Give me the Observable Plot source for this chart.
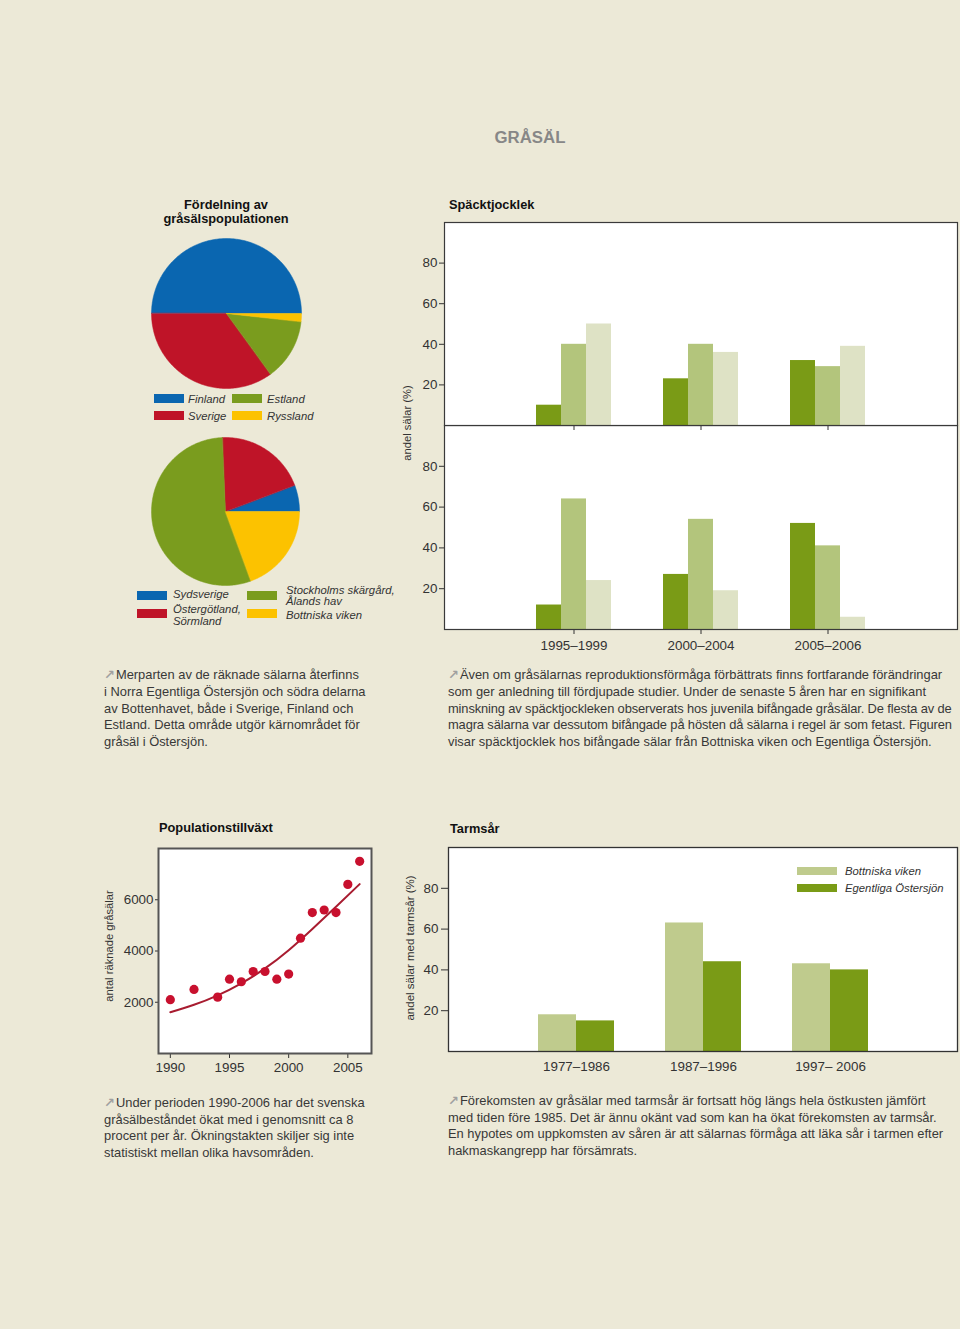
<!DOCTYPE html>
<html><head><meta charset="utf-8">
<script src="https://cdn.jsdelivr.net/npm/d3@7"></script>
<script src="https://cdn.jsdelivr.net/npm/@observablehq/plot@0.6"></script>
<style>
html,body{margin:0;padding:0;}
body{background:#ECE9D7;width:960px;height:1329px;position:relative;overflow:hidden;font-family:"Liberation Sans",Arial,sans-serif;color:#333;}
.para{position:absolute;font-family:"Liberation Sans",Arial,sans-serif;font-size:12.9px;color:#383838;white-space:nowrap;}
.arrow{color:#a0a0a0;font-family:"DejaVu Sans",sans-serif;font-size:13px;font-weight:bold;margin-right:1px;}
</style>
</head><body>
<script>
// ---------- DATA ----------
const pie1Labels = ["Finland", "Sverige", "Estland", "Ryssland"];
const pie1Values = [50, 35, 13.3, 1.7];
const pie1Colors = ["#0a66b0", "#bf1428", "#7a9c1e", "#fcc200"];
const pie1Order = ["Finland", "Ryssland", "Estland", "Sverige"];
const pie1StartDeg = -90;

const pie2Labels = ["Sydsverige", "Östergötland, Sörmland", "Stockholms skärgård, Ålands hav", "Bottniska viken"];
const pie2Values = [5.8, 19.9, 54.9, 19.4];
const pie2Colors = ["#0a66b0", "#bf1428", "#7a9c1e", "#fcc200"];
const pie2Order = ["Östergötland, Sörmland", "Sydsverige", "Bottniska viken", "Stockholms skärgård, Ålands hav"];
const pie2StartDeg = -2.5;

const spackPeriods = ["1995–1999", "2000–2004", "2005–2006"];
const spackClasses = ["< 26 mm", "26-35 mm", "> 35 mm"];
const spackColors = ["#7a9b16", "#b3c57c", "#dee2c5"];
const spackRegions = ["Bottniska viken", "Egentliga Östersjön"];
const bottniskaSmall = [10, 23, 32];
const bottniskaMid = [40, 40, 29];
const bottniskaLarge = [50, 36, 39];
const egentligaSmall = [12, 27, 52];
const egentligaMid = [64, 54, 41];
const egentligaLarge = [24, 19, 6];
const spackTicks = [20, 40, 60, 80];

const popYears = [1990, 1992, 1994, 1995, 1996, 1997, 1998, 1999, 2000, 2001, 2002, 2003, 2004, 2005, 2006];
const popCounts = [2100, 2500, 2200, 2900, 2800, 3200, 3200, 2900, 3100, 4500, 5500, 5600, 5500, 6600, 7500];
const trendYears = [1990, 1992, 1994, 1996, 1998, 2000, 2002, 2004, 2006];
const trendValues = [1610, 1900, 2270, 2740, 3320, 4030, 4860, 5730, 6610];
const popXTicks = [1990, 1995, 2000, 2005];
const popYTicks = [2000, 4000, 6000];

const tarmPeriods = ["1977–1986", "1987–1996", "1997– 2006"];
const tarmSeries = ["Bottniska viken", "Egentliga Östersjön"];
const tarmColors = ["#bfcb8d", "#7a9b16"];
const tarmBottniska = [18, 63, 43];
const tarmEgentliga = [15, 44, 40];
const tarmTicks = [20, 40, 60, 80];

// ---------- HELPERS ----------
const FONT = '"Liberation Sans", Arial, sans-serif';
function put(node, x, y, z) {
  const d = document.createElement("div");
  d.style.cssText = `position:absolute;left:${x}px;top:${y}px;${z ? "z-index:" + z + ";" : ""}`;
  node.style.display = "block";
  d.appendChild(node);
  document.body.appendChild(d);
}
function text(str, x, cy, o = {}) {
  const size = o.size || 12, d = document.createElement("div");
  d.textContent = str;
  d.style.cssText = `position:absolute;left:${x}px;top:${cy - 0.52 * size}px;font-family:${FONT};font-size:${size}px;line-height:${size}px;` +
    `font-weight:${o.weight || "normal"};font-style:${o.style || "normal"};color:${o.color || "#333"};white-space:nowrap;` +
    (o.anchor === "middle" ? "transform:translateX(-50%);" : "");
  document.body.appendChild(d);
}
function vtext(str, cx, cy, size) {
  const d = document.createElement("div");
  d.textContent = str;
  d.style.cssText = `position:absolute;left:${cx}px;top:${cy}px;font-family:${FONT};font-size:${size}px;line-height:${size}px;color:#333;white-space:nowrap;transform:translate(-50%,-50%) rotate(-90deg);`;
  document.body.appendChild(d);
}
function swatch(x, y, w, h, color) {
  const d = document.createElement("div");
  d.style.cssText = `position:absolute;left:${x}px;top:${y}px;width:${w}px;height:${h}px;background:${color};`;
  document.body.appendChild(d);
}
function para(lines, x, firstCy, lh, tight) {
  const d = document.createElement("div");
  d.className = "para";
  d.style.left = x + "px";
  d.style.top = (firstCy - 9) + "px";
  d.style.lineHeight = lh + "px";
  lines.forEach((l, i) => {
    const line = document.createElement("div");
    if (tight && tight.includes(i)) line.style.letterSpacing = "-0.13px";
    if (i === 0) {
      const a = document.createElement("span");
      a.className = "arrow"; a.textContent = "↗";
      line.appendChild(a);
    }
    line.appendChild(document.createTextNode(l));
    d.appendChild(line);
  });
  document.body.appendChild(d);
}

// ---------- TITLES ----------
text("GRÅSÄL", 530, 139, {size: 16.8, weight: "bold", color: "#878787", anchor: "middle"});
text("Fördelning av", 226, 206, {size: 12.8, weight: "bold", color: "#111", anchor: "middle"});
text("gråsälspopulationen", 226, 220, {size: 12.8, weight: "bold", color: "#111", anchor: "middle"});
text("Späcktjocklek", 449, 206, {size: 12.8, weight: "bold", color: "#111"});
text("Populationstillväxt", 159, 829, {size: 12.8, weight: "bold", color: "#111"});
text("Tarmsår", 450, 830, {size: 12.8, weight: "bold", color: "#111"});

// ---------- PIES ----------
function sliceRows(labels, values, order, startDeg) {
  const data = labels.map((l, i) => ({label: l, value: values[i]}));
  const a0 = startDeg * Math.PI / 180;
  const arcs = d3.pie().value(d => d.value)
    .sort((a, b) => order.indexOf(a.label) - order.indexOf(b.label))
    .startAngle(a0).endAngle(a0 + 2 * Math.PI)(data);
  const rows = [];
  for (const a of arcs) {
    rows.push({label: a.data.label, x: 0, y: 0});
    const n = Math.max(2, Math.ceil((a.endAngle - a.startAngle) / (Math.PI / 180)));
    for (let k = 0; k <= n; k++) {
      const t = a.startAngle + (a.endAngle - a.startAngle) * k / n;
      rows.push({label: a.data.label, x: Math.sin(t), y: Math.cos(t)});
    }
  }
  return rows;
}
function piePlot(labels, values, colors, order, start, size) {
  return Plot.plot({
    width: size, height: size, margin: 5,
    style: {background: "transparent", overflow: "visible"},
    x: {domain: [-1, 1], axis: null},
    y: {domain: [-1, 1], axis: null},
    color: {domain: labels, range: colors},
    marks: [
      Plot.line(sliceRows(labels, values, order, start), {x: "x", y: "y", z: "label", fill: "label", stroke: "label", strokeWidth: 0.5, curve: "linear-closed"})
    ]
  });
}
put(piePlot(pie1Labels, pie1Values, pie1Colors, pie1Order, pie1StartDeg, 160), 146, 233);
put(piePlot(pie2Labels, pie2Values, pie2Colors, pie2Order, pie2StartDeg, 158), 146, 432);

// pie legends
const LEG = {size: 11.3, style: "italic", color: "#333"};
swatch(154, 394, 30, 9, pie1Colors[0]); text(pie1Labels[0], 188, 399.5, LEG);
swatch(154, 411, 30, 9, pie1Colors[1]); text(pie1Labels[1], 188, 416.5, LEG);
swatch(232, 394, 30, 9, pie1Colors[2]); text(pie1Labels[2], 267, 400, LEG);
swatch(232, 411, 30, 9, pie1Colors[3]); text(pie1Labels[3], 267, 417, LEG);

swatch(137, 591, 30, 9, pie2Colors[0]); text("Sydsverige", 173, 595, LEG);
swatch(137, 609, 30, 9, pie2Colors[1]); text("Östergötland,", 173, 610, LEG); text("Sörmland", 173, 621.5, LEG);
swatch(247, 591, 30, 9, pie2Colors[2]); text("Stockholms skärgård,", 286, 590.5, LEG); text("Ålands hav", 286, 602, LEG);
swatch(247, 609, 30, 9, pie2Colors[3]); text("Bottniska viken", 286, 616, LEG);

// ---------- SPÄCKTJOCKLEK ----------
const spackRows = [];
spackPeriods.forEach((p, i) => {
  spackRows.push({region: spackRegions[0], period: p, cls: spackClasses[0], value: bottniskaSmall[i]});
  spackRows.push({region: spackRegions[0], period: p, cls: spackClasses[1], value: bottniskaMid[i]});
  spackRows.push({region: spackRegions[0], period: p, cls: spackClasses[2], value: bottniskaLarge[i]});
  spackRows.push({region: spackRegions[1], period: p, cls: spackClasses[0], value: egentligaSmall[i]});
  spackRows.push({region: spackRegions[1], period: p, cls: spackClasses[1], value: egentligaMid[i]});
  spackRows.push({region: spackRegions[1], period: p, cls: spackClasses[2], value: egentligaLarge[i]});
});
const axisStyle = {background: "transparent", fontFamily: FONT, fontSize: "13.4px", color: "#333", overflow: "visible"};
function spackPlot(region, top) {
  const rows = spackRows.filter(r => r.region === region);
  const dxs = [-25, 0, 25];
  return Plot.plot({
    width: 565, height: top ? 221 : 234,
    marginLeft: 49, marginRight: 3, marginTop: top ? 10 : 0, marginBottom: top ? 8 : 30,
    style: axisStyle,
    x: {domain: spackPeriods, paddingInner: 0.804, paddingOuter: 0.914, tickSize: 5, tickPadding: 6, label: null, tickFormat: top ? () => "" : d => d},
    y: {domain: [0, 100], ticks: spackTicks, tickSize: 5, tickPadding: 2, label: null},
    color: {domain: spackClasses, range: spackColors},
    marks: [
      Plot.frame({fill: "white", stroke: "none"}),
      ...spackClasses.map((c, i) => Plot.barY(rows.filter(r => r.cls === c), {x: "period", y: "value", fill: "cls", dx: dxs[i], inset: 0})),
      Plot.frame({stroke: "#3a3a3a", strokeWidth: 1.2})
    ]
  });
}
put(spackPlot(spackRegions[1], false), 395, 425, 1);
put(spackPlot(spackRegions[0], true), 395, 212, 2);
vtext("andel sälar (%)", 408, 423, 11.2);
text("Bottniska viken", 466, 242.5, LEG);
text("Egentliga Östersjön", 470, 444, LEG);
text("Späcktjocklek:", 843, 241.5, LEG);
swatch(843, 256, 41, 8, spackColors[0]); text(spackClasses[0], 891, 261, LEG);
swatch(843, 278, 41, 8, spackColors[1]); text(spackClasses[1], 891, 283, LEG);
swatch(843, 300, 41, 8, spackColors[2]); text(spackClasses[2], 891, 305, LEG);

// ---------- POPULATIONSTILLVÄXT ----------
const popRows = popYears.map((y, i) => ({year: y, count: popCounts[i]}));
const trendRows = trendYears.map((y, i) => ({year: y, count: trendValues[i]}));
put(Plot.plot({
  width: 291, height: 240,
  marginLeft: 68, marginRight: 10, marginTop: 10, marginBottom: 25,
  style: axisStyle,
  x: {domain: [1989, 2007], ticks: popXTicks, tickFormat: d => String(d), tickSize: 5, tickPadding: 4, label: null},
  y: {domain: [0, 8000], ticks: popYTicks, tickFormat: d => String(d), tickSize: 3, tickPadding: 2, label: null},
  marks: [
    Plot.frame({fill: "white", stroke: "none"}),
    Plot.line(trendRows, {x: "year", y: "count", stroke: "#a81c30", strokeWidth: 2, curve: "natural"}),
    Plot.dot(popRows, {x: "year", y: "count", r: 4.6, fill: "#c8102e", stroke: "none"}),
    Plot.frame({stroke: "#555", strokeWidth: 2})
  ]
}), 90, 838);
vtext("antal räknade gråsälar", 110, 946, 11.2);

// ---------- TARMSÅR ----------
const tarmRows = [];
tarmPeriods.forEach((p, i) => {
  tarmRows.push({period: p, series: tarmSeries[0], value: tarmBottniska[i]});
  tarmRows.push({period: p, series: tarmSeries[1], value: tarmEgentliga[i]});
});
put(Plot.plot({
  width: 565, height: 244,
  marginLeft: 53, marginRight: 3, marginTop: 10, marginBottom: 30,
  style: axisStyle,
  x: {domain: tarmPeriods, paddingInner: 0.703, paddingOuter: 0.84, tickSize: 0, tickPadding: 10, label: null},
  y: {domain: [0, 100], ticks: tarmTicks, tickSize: 7, tickPadding: 3, label: null},
  color: {domain: tarmSeries, range: tarmColors},
  marks: [
    Plot.frame({fill: "white", stroke: "none"}),
    ...tarmSeries.map((s, i) => Plot.barY(tarmRows.filter(r => r.series === s), {x: "period", y: "value", fill: "series", dx: i === 0 ? -19 : 19, inset: 0})),
    Plot.frame({stroke: "#333", strokeWidth: 1.3})
  ]
}), 395, 837);
vtext("andel sälar med tarmsår (%)", 411, 948, 11.5);
swatch(797, 867, 40, 8, tarmColors[0]); text(tarmSeries[0], 845, 871.5, LEG);
swatch(797, 884, 40, 8, tarmColors[1]); text(tarmSeries[1], 845, 889, LEG);

// ---------- TEXT ----------
para(["Merparten av de räknade sälarna återfinns",
      "i Norra Egentliga Östersjön och södra delarna",
      "av Bottenhavet, både i Sverige, Finland och",
      "Estland. Detta område utgör kärnområdet för",
      "gråsäl i Östersjön."], 104, 676, 16.75);
para(["Även om gråsälarnas reproduktionsförmåga förbättrats finns fortfarande förändringar",
      "som ger anledning till fördjupade studier. Under de senaste 5 åren har en signifikant",
      "minskning av späcktjockleken observerats hos juvenila bifångade gråsälar. De flesta av de",
      "magra sälarna var dessutom bifångade på hösten då sälarna i regel är som fetast. Figuren",
      "visar späcktjocklek hos bifångade sälar från Bottniska viken och Egentliga Östersjön."], 448, 676, 16.75, [2, 3]);
para(["Under perioden 1990-2006 har det svenska",
      "gråsälbeståndet ökat med i genomsnitt ca 8",
      "procent per år. Ökningstakten skiljer sig inte",
      "statistiskt mellan olika havsområden."], 104, 1104, 16.7);
para(["Förekomsten av gråsälar med tarmsår är fortsatt hög längs hela östkusten jämfört",
      "med tiden före 1985. Det är ännu okänt vad som kan ha ökat förekomsten av tarmsår.",
      "En hypotes om uppkomsten av såren är att sälarnas förmåga att läka sår i tarmen efter",
      "hakmaskangrepp har försämrats."], 448, 1102, 16.7);
</script>
</body></html>
